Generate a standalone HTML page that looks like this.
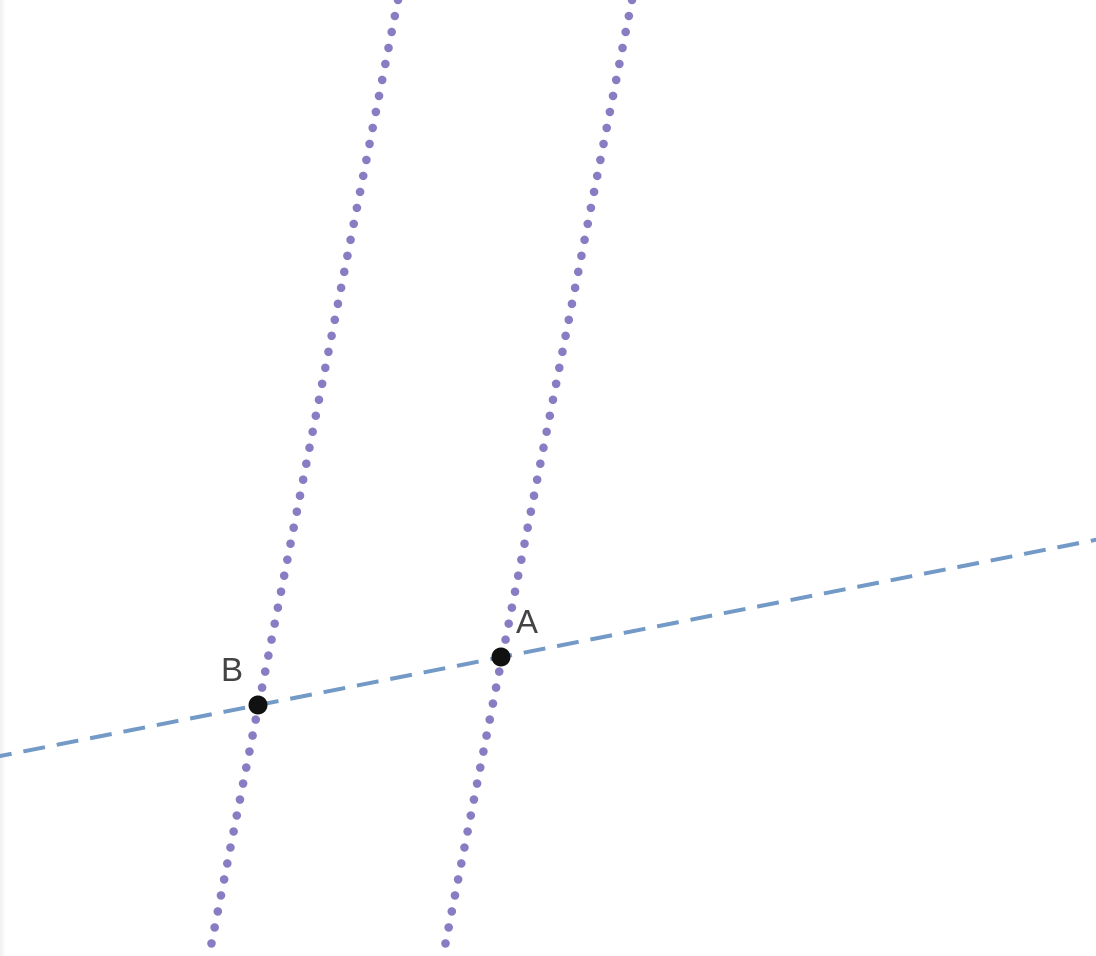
<!DOCTYPE html>
<html><head><meta charset="utf-8"><style>
html,body{margin:0;padding:0;background:#fff;width:1096px;height:956px;overflow:hidden}
#edge{position:absolute;left:0;top:0;width:6px;height:956px;background:linear-gradient(to right,#f0f0f0,#fff)}
</style></head><body>
<div id="edge"></div>
<svg id="fig" width="1096" height="956" style="position:absolute;left:0;top:0"></svg>
<script>
// line endpoints [x1,y1,x2,y2]
const dashedLine = [-10,758,1110,537];
const dottedLineB = [398,0,209,956];
const dottedLineA = [632,0,443,956];
const pointNames = ["A","B"];
const pointX = [501,258];
const pointY = [657,705];
const labelDX = [15,-37];
const labelDY = [-24,-24];

const svg=document.getElementById('fig');
const NS='http://www.w3.org/2000/svg';
function mk(t,a,parent){const e=document.createElementNS(NS,t);for(const k in a)e.setAttribute(k,a[k]);(parent||svg).appendChild(e);return e;}

const dl=mk('line',{x1:dashedLine[0],y1:dashedLine[1],x2:dashedLine[2],y2:dashedLine[3],stroke:'#7399c6','stroke-width':4,'stroke-dasharray':'22 12'});



function dotted(L,name){
  const g=mk('g',{fill:'#8a7cc2'});
  
  
  const dx=L[2]-L[0],dy=L[3]-L[1],len=Math.hypot(dx,dy),step=16.3;
  for(let s=0;s<=len;s+=step){
    mk('circle',{cx:L[0]+dx*s/len,cy:L[1]+dy*s/len,r:4.3},g);
  }
}
dotted(dottedLineB,'dotted-line-through-b');
dotted(dottedLineA,'dotted-line-through-a');

for(let i=0;i<pointNames.length;i++){
  const c=mk('circle',{cx:pointX[i],cy:pointY[i],r:9.5,fill:'#111'});
  
  
}

for(let i=0;i<pointNames.length;i++){
  const t=mk('text',{x:pointX[i]+labelDX[i],y:pointY[i]+labelDY[i],'font-family':'Liberation Sans, sans-serif','font-size':33,fill:'#444'});
  t.textContent=pointNames[i];
  
  
}
</script>
</body></html>
